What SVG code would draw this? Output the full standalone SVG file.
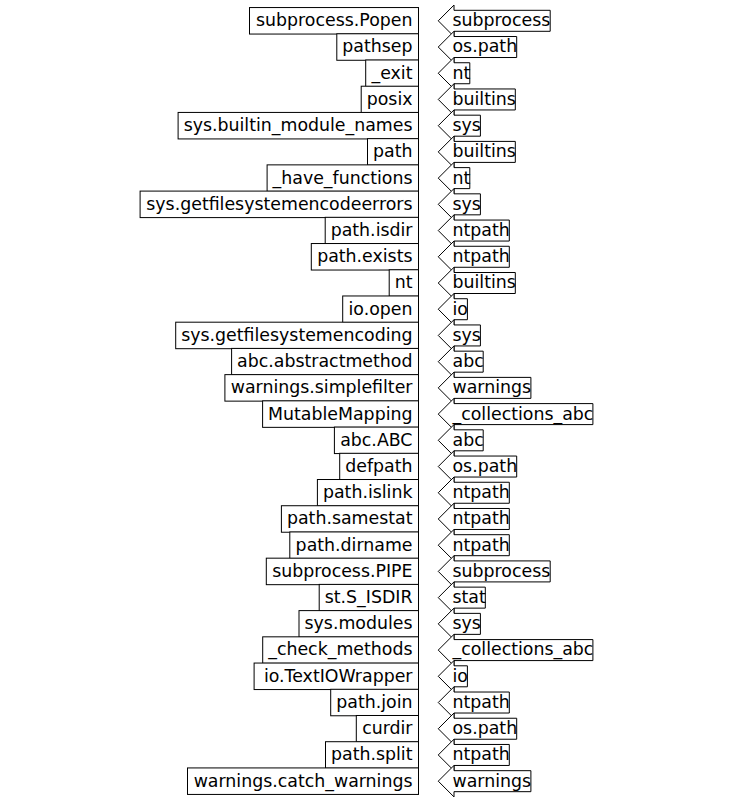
<svg xmlns="http://www.w3.org/2000/svg" width="750" height="800" viewBox="0 0 750 800">
<style>
.b{fill:#fff;stroke:#000;stroke-width:1}
.t{font-family:"DejaVu Sans","Liberation Sans",sans-serif;font-size:17.36px;fill:#000}
.l{text-anchor:end}
</style>
<rect width="750" height="800" fill="#fff"/>
<g id="connectors"></g>
<g id="r0" transform="translate(0,20.80)"><g id="s0"><rect class="b" x="249.5" y="-13.25" width="169.0" height="26.5"/><text class="t l" x="412.5" y="5.4">subprocess.Popen</text></g><g id="m0"><path class="b" d="M454,10.5H550.2V-10.5H454V-15.75L438.25,0L454,15.75Z"/><text class="t" x="452.5" y="5.4">subprocess</text></g></g>
<g id="r1" transform="translate(0,47.02)"><g id="s1"><rect class="b" x="336.8" y="-13.25" width="81.7" height="26.5"/><text class="t l" x="412.5" y="5.4">pathsep</text></g><g id="m1"><path class="b" d="M454,10.5H516.7V-10.5H454V-15.75L438.25,0L454,15.75Z"/><text class="t" x="452.5" y="5.4">os.path</text></g></g>
<g id="r2" transform="translate(0,73.24)"><g id="s2"><rect class="b" x="365.7" y="-13.25" width="52.8" height="26.5"/><text class="t l" x="412.5" y="5.4">_exit</text></g><g id="m2"><path class="b" d="M454,10.5H469.8V-10.5H454V-15.75L438.25,0L454,15.75Z"/><text class="t" x="452.5" y="5.4">nt</text></g></g>
<g id="r3" transform="translate(0,99.46)"><g id="s3"><rect class="b" x="361.2" y="-13.25" width="57.3" height="26.5"/><text class="t l" x="412.5" y="5.4">posix</text></g><g id="m3"><path class="b" d="M454,10.5H515.3V-10.5H454V-15.75L438.25,0L454,15.75Z"/><text class="t" x="452.5" y="5.4">builtins</text></g></g>
<g id="r4" transform="translate(0,125.68)"><g id="s4"><rect class="b" x="178.1" y="-13.25" width="240.4" height="26.5"/><text class="t l" x="412.5" y="5.4">sys.builtin_module_names</text></g><g id="m4"><path class="b" d="M454,10.5H480.4V-10.5H454V-15.75L438.25,0L454,15.75Z"/><text class="t" x="452.5" y="5.4">sys</text></g></g>
<g id="r5" transform="translate(0,151.90)"><g id="s5"><rect class="b" x="367.5" y="-13.25" width="51.0" height="26.5"/><text class="t l" x="412.5" y="5.4">path</text></g><g id="m5"><path class="b" d="M454,10.5H515.3V-10.5H454V-15.75L438.25,0L454,15.75Z"/><text class="t" x="452.5" y="5.4">builtins</text></g></g>
<g id="r6" transform="translate(0,178.12)"><g id="s6"><rect class="b" x="267.1" y="-13.25" width="151.4" height="26.5"/><text class="t l" x="412.5" y="5.4">_have_functions</text></g><g id="m6"><path class="b" d="M454,10.5H469.8V-10.5H454V-15.75L438.25,0L454,15.75Z"/><text class="t" x="452.5" y="5.4">nt</text></g></g>
<g id="r7" transform="translate(0,204.34)"><g id="s7"><rect class="b" x="140.1" y="-13.25" width="278.4" height="26.5"/><text class="t l" x="412.5" y="5.4">sys.getfilesystemencodeerrors</text></g><g id="m7"><path class="b" d="M454,10.5H480.4V-10.5H454V-15.75L438.25,0L454,15.75Z"/><text class="t" x="452.5" y="5.4">sys</text></g></g>
<g id="r8" transform="translate(0,230.56)"><g id="s8"><rect class="b" x="325.2" y="-13.25" width="93.3" height="26.5"/><text class="t l" x="412.5" y="5.4">path.isdir</text></g><g id="m8"><path class="b" d="M454,10.5H509.3V-10.5H454V-15.75L438.25,0L454,15.75Z"/><text class="t" x="452.5" y="5.4">ntpath</text></g></g>
<g id="r9" transform="translate(0,256.78)"><g id="s9"><rect class="b" x="311.3" y="-13.25" width="107.2" height="26.5"/><text class="t l" x="412.5" y="5.4">path.exists</text></g><g id="m9"><path class="b" d="M454,10.5H509.3V-10.5H454V-15.75L438.25,0L454,15.75Z"/><text class="t" x="452.5" y="5.4">ntpath</text></g></g>
<g id="r10" transform="translate(0,283.00)"><g id="s10"><rect class="b" x="389.2" y="-13.25" width="29.3" height="26.5"/><text class="t l" x="412.5" y="5.4">nt</text></g><g id="m10"><path class="b" d="M454,10.5H515.3V-10.5H454V-15.75L438.25,0L454,15.75Z"/><text class="t" x="452.5" y="5.4">builtins</text></g></g>
<g id="r11" transform="translate(0,309.22)"><g id="s11"><rect class="b" x="342.7" y="-13.25" width="75.8" height="26.5"/><text class="t l" x="412.5" y="5.4">io.open</text></g><g id="m11"><path class="b" d="M454,10.5H467.4V-10.5H454V-15.75L438.25,0L454,15.75Z"/><text class="t" x="452.5" y="5.4">io</text></g></g>
<g id="r12" transform="translate(0,335.44)"><g id="s12"><rect class="b" x="175.7" y="-13.25" width="242.8" height="26.5"/><text class="t l" x="412.5" y="5.4">sys.getfilesystemencoding</text></g><g id="m12"><path class="b" d="M454,10.5H480.4V-10.5H454V-15.75L438.25,0L454,15.75Z"/><text class="t" x="452.5" y="5.4">sys</text></g></g>
<g id="r13" transform="translate(0,361.66)"><g id="s13"><rect class="b" x="231.6" y="-13.25" width="186.9" height="26.5"/><text class="t l" x="412.5" y="5.4">abc.abstractmethod</text></g><g id="m13"><path class="b" d="M454,10.5H483.2V-10.5H454V-15.75L438.25,0L454,15.75Z"/><text class="t" x="452.5" y="5.4">abc</text></g></g>
<g id="r14" transform="translate(0,387.88)"><g id="s14"><rect class="b" x="224.9" y="-13.25" width="193.6" height="26.5"/><text class="t l" x="412.5" y="5.4">warnings.simplefilter</text></g><g id="m14"><path class="b" d="M454,10.5H530.9V-10.5H454V-15.75L438.25,0L454,15.75Z"/><text class="t" x="452.5" y="5.4">warnings</text></g></g>
<g id="r15" transform="translate(0,414.10)"><g id="s15"><rect class="b" x="262.6" y="-13.25" width="155.9" height="26.5"/><text class="t l" x="412.5" y="5.4">MutableMapping</text></g><g id="m15"><path class="b" d="M454,10.5H592.9V-10.5H454V-15.75L438.25,0L454,15.75Z"/><text class="t" x="452.5" y="5.4">_collections_abc</text></g></g>
<g id="r16" transform="translate(0,440.32)"><g id="s16"><rect class="b" x="334.4" y="-13.25" width="84.1" height="26.5"/><text class="t l" x="412.5" y="5.4">abc.ABC</text></g><g id="m16"><path class="b" d="M454,10.5H483.2V-10.5H454V-15.75L438.25,0L454,15.75Z"/><text class="t" x="452.5" y="5.4">abc</text></g></g>
<g id="r17" transform="translate(0,466.54)"><g id="s17"><rect class="b" x="339.7" y="-13.25" width="78.8" height="26.5"/><text class="t l" x="412.5" y="5.4">defpath</text></g><g id="m17"><path class="b" d="M454,10.5H516.7V-10.5H454V-15.75L438.25,0L454,15.75Z"/><text class="t" x="452.5" y="5.4">os.path</text></g></g>
<g id="r18" transform="translate(0,492.76)"><g id="s18"><rect class="b" x="317.4" y="-13.25" width="101.1" height="26.5"/><text class="t l" x="412.5" y="5.4">path.islink</text></g><g id="m18"><path class="b" d="M454,10.5H509.3V-10.5H454V-15.75L438.25,0L454,15.75Z"/><text class="t" x="452.5" y="5.4">ntpath</text></g></g>
<g id="r19" transform="translate(0,518.98)"><g id="s19"><rect class="b" x="281.4" y="-13.25" width="137.1" height="26.5"/><text class="t l" x="412.5" y="5.4">path.samestat</text></g><g id="m19"><path class="b" d="M454,10.5H509.3V-10.5H454V-15.75L438.25,0L454,15.75Z"/><text class="t" x="452.5" y="5.4">ntpath</text></g></g>
<g id="r20" transform="translate(0,545.20)"><g id="s20"><rect class="b" x="289.8" y="-13.25" width="128.7" height="26.5"/><text class="t l" x="412.5" y="5.4">path.dirname</text></g><g id="m20"><path class="b" d="M454,10.5H509.3V-10.5H454V-15.75L438.25,0L454,15.75Z"/><text class="t" x="452.5" y="5.4">ntpath</text></g></g>
<g id="r21" transform="translate(0,571.42)"><g id="s21"><rect class="b" x="266.3" y="-13.25" width="152.2" height="26.5"/><text class="t l" x="412.5" y="5.4">subprocess.PIPE</text></g><g id="m21"><path class="b" d="M454,10.5H550.2V-10.5H454V-15.75L438.25,0L454,15.75Z"/><text class="t" x="452.5" y="5.4">subprocess</text></g></g>
<g id="r22" transform="translate(0,597.64)"><g id="s22"><rect class="b" x="319.2" y="-13.25" width="99.3" height="26.5"/><text class="t l" x="412.5" y="5.4">st.S_ISDIR</text></g><g id="m22"><path class="b" d="M454,10.5H485.3V-10.5H454V-15.75L438.25,0L454,15.75Z"/><text class="t" x="452.5" y="5.4">stat</text></g></g>
<g id="r23" transform="translate(0,623.86)"><g id="s23"><rect class="b" x="299.0" y="-13.25" width="119.5" height="26.5"/><text class="t l" x="412.5" y="5.4">sys.modules</text></g><g id="m23"><path class="b" d="M454,10.5H480.4V-10.5H454V-15.75L438.25,0L454,15.75Z"/><text class="t" x="452.5" y="5.4">sys</text></g></g>
<g id="r24" transform="translate(0,650.08)"><g id="s24"><rect class="b" x="262.7" y="-13.25" width="155.8" height="26.5"/><text class="t l" x="412.5" y="5.4">_check_methods</text></g><g id="m24"><path class="b" d="M454,10.5H592.9V-10.5H454V-15.75L438.25,0L454,15.75Z"/><text class="t" x="452.5" y="5.4">_collections_abc</text></g></g>
<g id="r25" transform="translate(0,676.30)"><g id="s25"><rect class="b" x="254.1" y="-13.25" width="164.4" height="26.5"/><text class="t l" x="412.5" y="5.4">io.TextIOWrapper</text></g><g id="m25"><path class="b" d="M454,10.5H467.4V-10.5H454V-15.75L438.25,0L454,15.75Z"/><text class="t" x="452.5" y="5.4">io</text></g></g>
<g id="r26" transform="translate(0,702.52)"><g id="s26"><rect class="b" x="330.7" y="-13.25" width="87.8" height="26.5"/><text class="t l" x="412.5" y="5.4">path.join</text></g><g id="m26"><path class="b" d="M454,10.5H509.3V-10.5H454V-15.75L438.25,0L454,15.75Z"/><text class="t" x="452.5" y="5.4">ntpath</text></g></g>
<g id="r27" transform="translate(0,728.74)"><g id="s27"><rect class="b" x="356.3" y="-13.25" width="62.2" height="26.5"/><text class="t l" x="412.5" y="5.4">curdir</text></g><g id="m27"><path class="b" d="M454,10.5H516.7V-10.5H454V-15.75L438.25,0L454,15.75Z"/><text class="t" x="452.5" y="5.4">os.path</text></g></g>
<g id="r28" transform="translate(0,754.96)"><g id="s28"><rect class="b" x="325.5" y="-13.25" width="93.0" height="26.5"/><text class="t l" x="412.5" y="5.4">path.split</text></g><g id="m28"><path class="b" d="M454,10.5H509.3V-10.5H454V-15.75L438.25,0L454,15.75Z"/><text class="t" x="452.5" y="5.4">ntpath</text></g></g>
<g id="r29" transform="translate(0,781.18)"><g id="s29"><rect class="b" x="187.5" y="-13.25" width="231.0" height="26.5"/><text class="t l" x="412.5" y="5.4">warnings.catch_warnings</text></g><g id="m29"><path class="b" d="M454,10.5H530.9V-10.5H454V-15.75L438.25,0L454,15.75Z"/><text class="t" x="452.5" y="5.4">warnings</text></g></g>
</svg>
